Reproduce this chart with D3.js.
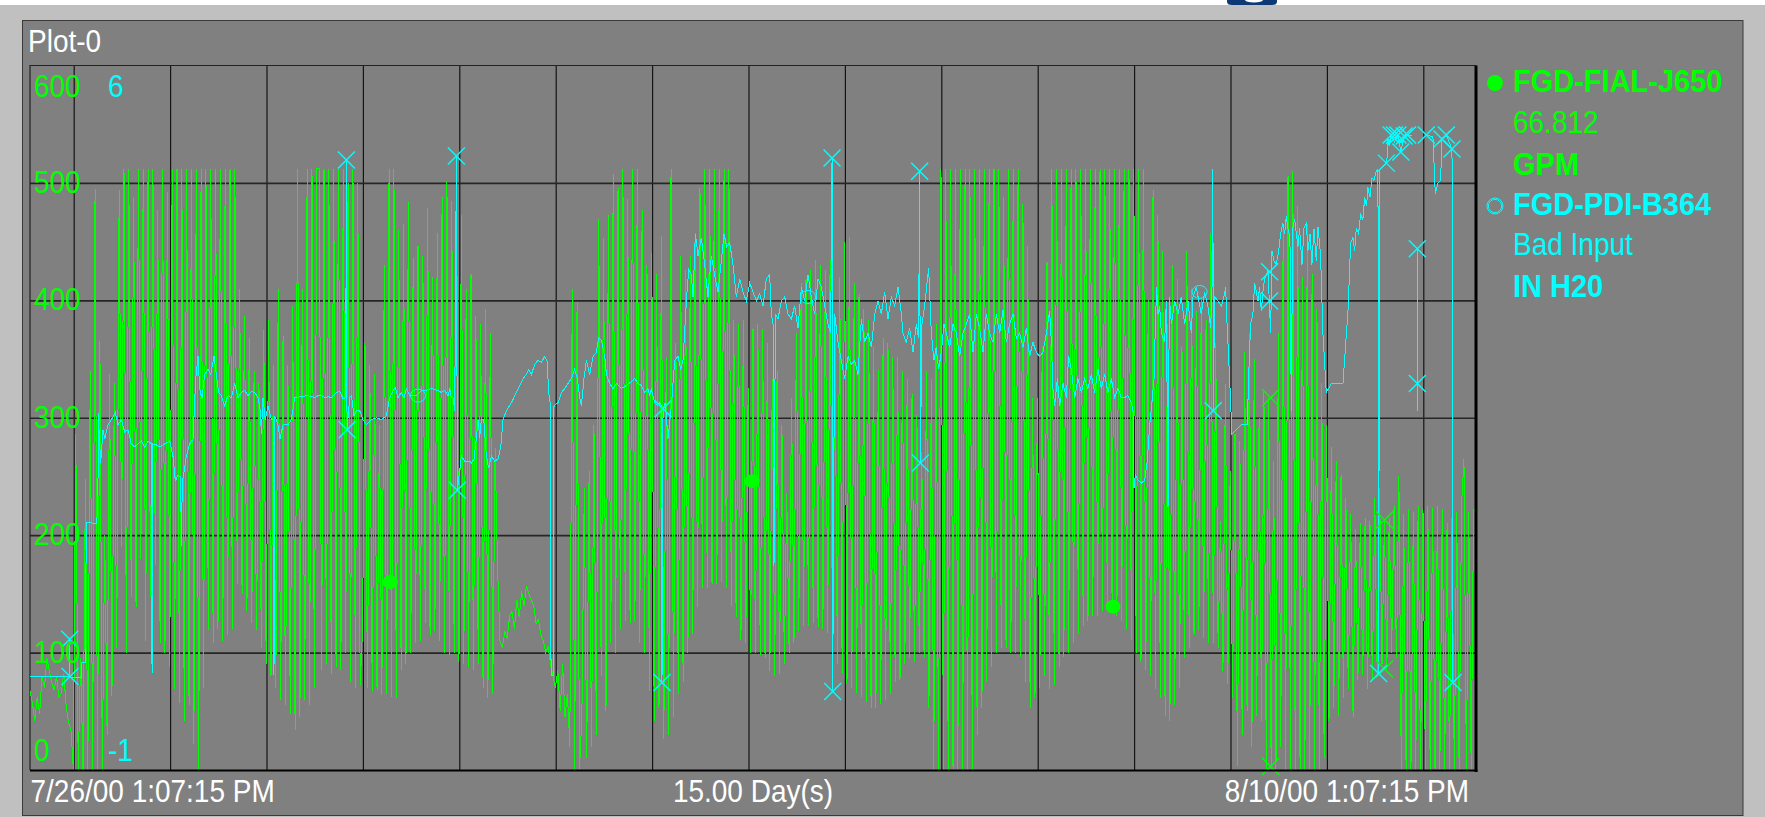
<!DOCTYPE html>
<html>
<head>
<meta charset="utf-8">
<script src="https://cdn.jsdelivr.net/npm/d3@7"></script>
<style>
  html, body { margin: 0; padding: 0; background: #fff; }
  svg { display: block; }
  text { font-family: "Liberation Sans", Arial, sans-serif; }
</style>
</head>
<body>
<svg id="chart" width="1765" height="817"></svg>
<script>
// time span of the trend: 15 days
const startTime = new Date(2000, 6, 26, 13, 7, 15);
const endTime = new Date(2000, 7, 10, 13, 7, 15);

// FGD-FIAL-J650 (GPM), one sample every 0.025 day
const fialStep = 0.025;
const fialValues = [
  // day 0
  67,57,42,62,48,80,70,95,85,75, 68,80,62,66,82,55,40,34,0,286, 0,95,0,248,0,340,0,495,0,365, 0,200,30,337,63,330,104,494,190,512,
  // day 1
  100,512,147,488,139,512,180,512,110,512, 147,512,175,477,108,512,100,492,88,512, 69,512,57,512,42,512,55,512,22,512, 0,512,70,512,119,512,108,512,120,512,
  // day 2
  110,512,115,512,120,512,158,410,150,387, 135,368,125,340,119,330,104,375,90,383, 80,345,70,410,60,370,55,345,48,395, 34,512,45,410,60,512,55,512,70,512,
  // day 3
  512,85,512,90,512,82,512,88,512,85, 512,100,500,75,512,70,500,72,120,364, 70,345,67,337,68,294,64,430,65,512, 62,512,61,460,85,465,90,484,100,436,
  // day 4
  108,446,110,438,125,479,115,420,118,457, 110,488,100,502,98,485,100,494,92,473, 90,410,88,422,85,387,90,380,70,393, 61,372,65,274,174,110,104,118,112,131,
  // day 5
  135,120,145,130,152,140,157,150,145,140, 125,128,115,110,100,105,90,80,70,85, 50,90,45,65,20,410,0,399,0,45, 240,10,255,20,294,30,469,80,453,50,
  // day 6
  473,108,508,100,496,120,512,127,486,125, 512,127,512,108,477,100,430,67,440,42, 422,53,455,26,352,30,512,45,364,65, 438,75,426,100,438,116,457,139,496,155,
  // day 7
  512,155,512,158,512,158,512,160,512,155, 512,140,383,130,380,111,383,108,325,100, 376,100,380,98,376,95,364,84,333,80, 340,82,294,90,236,100,317,108,372,118,
  // day 8
  415,123,418,123,426,125,434,122,430,120, 426,117,434,100,380,90,420,82,450,73, 454,70,415,66,405,62,393,58,383,53, 360,53,341,56,368,60,364,65,352,75,
  // day 9
  352,77,340,90,333,95,320,92,302,100, 271,95,340,53,333,0,380,0,512,0, 512,0,512,0,512,0,512,0,512,0, 512,0,512,30,512,53,512,75,512,88,
  // day 10
  512,100,512,104,488,104,512,100,512,100, 512,96,482,75,446,53,317,61,317,70, 360,80,433,69,512,72,512,88,512,96, 512,100,512,108,512,116,512,123,512,127,
  // day 11
  512,131,512,131,512,135,512,135,512,139, 512,131,512,127,512,120,512,111,512,100, 512,92,512,85,400,80,494,69,473,61, 442,46,380,42,430,55,418,70,360,95,
  // day 12
  442,104,410,115,391,119,400,112,383,108, 457,108,364,104,212,84,329,73,255,61, 286,3,280,30,356,50,372,20,350,46, 300,42,322,0,317,0,263,0,372,20,
  // day 13
  465,0,506,0,510,0,480,0,420,0, 465,0,422,0,393,0,330,10,294,42, 275,53,263,46,251,61,232,69,218,45, 205,77,210,81,215,69,212,77,232,81,
  // day 14
  240,90,212,86,215,100,225,95,250,0, 218,0,222,0,220,0,225,0,222,0, 225,0,223,0,225,0,222,0,210,0, 215,0,220,0,225,265,0,220,0,222,
  220
];
const fialDots = [[3.738, 160], [7.49, 246], [11.234, 139]];
const fialCrosses = [[12.87, 317], [12.87, 3], [14.052, 213], [14.052, 86]];

// FGD-PDI-B364 (IN H20): [day, value], null = gap
const pdiTrace = [
  [0,-0.07],[0.41,-0.07],[0.412,0.30],[0.415,-0.07],[0.43,-0.08],[0.53,-0.08],[0.532,0.07],[0.574,0.07],[0.584,1.46],[0.688,1.45],
  [0.705,1.59],[0.707,2.55],[0.733,2.05],[0.757,2.38],[0.775,2.29],[0.809,2.43],[0.844,2.48],[0.885,2.55],[0.913,2.43],[0.947,2.48],
  [0.982,2.36],[1.017,2.38],[1.051,2.24],[1.086,2.21],[1.12,2.24],[1.155,2.27],[1.19,2.21],[1.224,2.27],[1.259,2.24],[1.266,-0.04],
  [1.273,2.24],[1.311,2.23],[1.345,2.21],[1.397,2.24],[1.449,2.27],[1.483,2.12],[1.508,1.87],[1.535,1.93],[1.563,1.91],[1.57,1.23],
  [1.58,1.85],[1.622,2.12],[1.656,2.24],[1.691,2.29],[1.719,2.89],[1.743,3.11],[1.76,2.79],[1.784,2.69],[1.812,2.93],[1.847,2.98],
  [1.874,2.93],[1.909,3.11],[1.933,2.93],[1.957,2.75],[1.985,2.72],[2.019,2.62],[2.054,2.72],[2.089,2.70],[2.123,2.84],[2.158,2.70],
  [2.192,2.75],[2.227,2.77],[2.261,2.72],[2.296,2.76],[2.331,2.75],[2.365,2.70],[2.389,2.57],[2.40,2.34],[2.417,2.70],[2.441,2.48],
  [2.469,2.62],[2.504,2.48],[2.528,2.48],[2.531,-0.06],[2.538,2.52],[2.573,2.43],[2.593,2.29],[2.625,2.43],[2.676,2.43],[2.711,2.48],
  [2.746,2.70],[2.815,2.71],[2.884,2.72],[2.953,2.70],
  [2.988,2.72],[3.022,2.72],[3.057,2.70],[3.092,2.71],[3.126,2.70],[3.178,2.75],[3.213,2.76],[3.247,2.69],[3.275,2.70],[3.282,5.06],
  [3.289,2.38],[3.316,2.70],[3.334,2.72],[3.361,2.52],[3.386,2.57],[3.42,2.57],[3.455,2.48],[3.489,2.43],[3.541,2.48],[3.593,2.50],
  [3.645,2.48],[3.697,2.52],[3.731,2.70],[3.766,2.77],[3.79,2.80],[3.818,2.70],[3.852,2.75],[3.88,2.70],[3.904,2.79],[3.939,2.72],
  [3.973,2.72],[4.008,2.72],[4.06,2.77],[4.095,2.77],[4.129,2.78],[4.164,2.79],[4.198,2.78],[4.233,2.77],[4.267,2.75],[4.302,2.77],
  [4.337,2.72],[4.354,2.79],[4.371,2.70],[4.388,2.70],[4.406,2.57],[4.423,5.10],[4.433,1.78],[4.475,2.12],[4.509,2.07],[4.561,2.07],
  [4.579,2.05],[4.606,2.09],[4.63,2.30],[4.648,2.48],[4.665,2.30],[4.682,2.48],[4.707,2.48],[4.734,2.12],[4.758,2.00],[4.786,2.12],
  [4.821,2.07],[4.855,2.09],[4.883,2.21],[4.907,2.48],[4.942,2.57],[4.994,2.65],[5.045,2.75],[5.08,2.82],[5.115,2.89],[5.149,2.93],
  [5.173,2.98],[5.201,2.93],[5.236,3.03],[5.27,3.07],[5.305,3.05],[5.339,3.11],[5.363,3.07],[5.381,2.75],[5.40,2.62],[5.405,-0.06],
  [5.43,-0.06],[5.436,2.62],[5.478,2.65],[5.512,2.75],[5.547,2.79],[5.581,2.84],[5.616,2.89],[5.65,2.98],[5.678,2.89],[5.702,2.70],
  [5.72,2.62],[5.747,2.89],[5.771,3.07],[5.806,2.93],[5.841,3.11],[5.875,3.15],[5.899,3.29],[5.927,3.27],[5.962,3.11],[5.979,2.93],
  [6.014,2.84],[6.048,2.79],
  [6.082,2.84],[6.134,2.79],[6.186,2.82],[6.238,2.86],[6.273,2.89],[6.307,2.84],[6.342,2.82],[6.376,2.75],[6.411,2.79],[6.428,2.72],
  [6.445,2.79],[6.48,2.65],[6.508,2.62],[6.532,2.65],[6.549,2.62],[6.556,-0.13],[6.567,2.59],[6.591,2.65],[6.618,2.29],[6.653,2.62],
  [6.688,3.07],[6.722,3.11],[6.75,2.98],[6.774,3.07],[6.809,3.66],[6.833,3.97],[6.86,3.92],[6.878,3.70],[6.902,4.33],[6.93,4.11],
  [6.964,4.29],[6.999,4.02],[7.033,3.70],[7.068,4.11],[7.102,3.92],[7.137,3.75],[7.172,4.06],[7.199,4.33],[7.227,4.20],[7.258,4.24],
  [7.293,4.02],[7.327,3.70],[7.362,3.88],[7.396,3.75],[7.431,3.66],[7.466,3.84],[7.50,3.75],[7.535,3.66],[7.569,3.73],[7.604,3.61],
  [7.638,3.88],[7.673,3.92],[7.69,3.53],[7.708,3.43],[7.718,1.03],[7.732,3.53],[7.759,3.48],[7.794,3.66],[7.829,3.70],[7.863,3.53],
  [7.898,3.48],[7.932,3.61],[7.967,3.39],[8.002,3.80],[8.036,3.66],[8.071,3.92],[8.105,3.70],[8.14,3.53],[8.174,3.88],[8.209,3.80],
  [8.244,3.61],[8.278,3.43],[8.306,3.34],[8.32,5.08],[8.327,-0.22],[8.347,3.53],[8.382,3.25],[8.416,3.07],[8.451,2.89],[8.486,3.11],
  [8.52,3.03],[8.555,3.07],[8.589,2.93],[8.624,3.48],[8.658,3.25],[8.693,3.34],[8.728,3.20],[8.762,3.53],[8.797,3.66],[8.831,3.53],
  [8.866,3.75],[8.90,3.48],[8.935,3.70],[8.97,3.61],[9.004,3.80],[9.039,3.53],
  [9.056,3.34],[9.09,3.25],[9.125,3.39],[9.16,3.15],[9.194,3.43],[9.218,3.29],[9.229,4.95],[9.236,2.05],[9.253,3.43],[9.28,3.61],
  [9.322,3.99],[9.35,3.34],[9.377,3.07],[9.40,3.20],[9.426,2.98],[9.453,3.15],[9.481,3.43],[9.505,3.34],[9.54,3.20],[9.575,3.43],
  [9.609,3.34],[9.644,3.11],[9.678,3.34],[9.713,3.43],[9.748,3.53],[9.782,3.15],[9.817,3.53],[9.851,3.39],[9.886,3.15],[9.92,3.53],
  [9.955,3.34],[9.989,3.25],[10.024,3.53],[10.059,3.34],[10.093,3.57],[10.128,3.25],[10.162,3.43],[10.197,3.53],[10.232,3.29],[10.266,3.34],
  [10.301,3.20],[10.335,3.39],[10.37,3.11],[10.404,3.25],[10.439,3.15],[10.474,3.11],[10.508,3.15],[10.543,3.34],[10.577,3.56],[10.595,3.25],
  [10.612,2.79],[10.629,2.62],[10.657,2.89],[10.681,2.62],[10.716,2.84],[10.75,2.70],[10.774,3.11],[10.802,2.98],[10.837,2.70],[10.871,2.89],
  [10.906,2.75],[10.94,2.89],[10.975,2.79],[11.01,2.93],[11.044,2.75],[11.079,2.98],[11.113,2.79],[11.148,2.93],[11.182,2.75],[11.217,2.89],
  [11.252,2.70],[11.286,2.79],[11.321,2.70],[11.355,2.70],[11.39,2.72],[11.425,2.65],[11.442,2.57],[11.452,1.80],[11.466,1.93],[11.494,1.88],
  [11.528,1.85],[11.563,1.88],[11.59,2.07],[11.615,2.43],[11.639,2.65],[11.66,2.89],[11.673,3.39],[11.687,3.80],[11.701,3.53],[11.718,3.61],
  [11.736,3.34],[11.77,3.25],[11.788,3.66],[11.805,1.61],[11.819,3.70],[11.84,3.43],[11.874,3.66],[11.909,3.53],[11.943,3.70],[11.978,3.43],
  [12.012,3.66],[12.047,3.34],
  [12.064,3.70],[12.098,3.80],[12.15,3.53],[12.185,3.75],[12.219,3.61],[12.247,3.39],[12.261,3.73],[12.271,4.97],[12.274,2.57],[12.289,3.70],
  [12.323,3.66],[12.358,3.61],[12.385,3.70],[12.403,3.80],[12.413,3.53],[12.444,2.89],[12.468,2.34],[12.513,2.38],[12.565,2.43],[12.628,2.43],
  [12.641,2.89],[12.662,3.43],[12.686,3.53],[12.704,3.84],[12.721,3.75],[12.738,3.66],[12.755,3.80],[12.773,3.56],[12.79,3.75],[12.807,3.88],
  [12.825,3.92],[12.842,3.97],[12.87,3.34],[12.883,4.16],[12.904,4.06],[12.928,4.02],[12.953,4.16],[12.973,4.33],[12.997,4.43],[13.015,4.33],
  [13.032,4.50],[13.049,4.38],[13.07,4.29],[13.084,2.57],[13.098,4.38],[13.119,4.47],[13.153,4.20],[13.17,4.38],[13.195,4.02],[13.215,4.38],
  [13.24,4.43],[13.257,4.16],[13.278,4.33],[13.298,4.02],[13.319,4.38],[13.343,4.06],[13.361,4.40],[13.388,4.11],[13.412,3.34],[13.447,2.75],
  [13.499,2.84],[13.533,2.84],[13.62,2.84],[13.672,3.56],[13.70,4.24],[13.724,4.29],[13.741,4.16],[13.758,4.38],[13.782,4.33],[13.803,4.52],
  [13.827,4.47],[13.845,4.69],[13.865,4.60],[13.879,4.79],[13.90,4.69],[13.921,4.88],[13.941,4.86],[13.966,4.95],[13.983,4.97],[13.99,-0.04],
  [14.0,4.97],[14.05,5.01],[14.07,5.03],[14.08,5.10],[14.087,5.27],[14.10,5.20],[14.12,5.31],[14.155,5.24],[14.19,5.31],[14.22,5.14],
  [14.255,5.30],[14.29,5.31],[14.33,5.30],[14.36,null],
  [14.391,4.18],[14.391,2.57],[14.43,null],
  [14.484,5.31],[14.553,5.29],[14.578,4.72],[14.605,4.83],[14.633,4.86],[14.647,5.27],[14.692,5.31],[14.751,5.17],[14.761,-0.13]
];
const pdiCrosses = [
  [0.412,0.30],[0.415,-0.07],[3.282,5.06],[3.289,2.38],[4.423,5.10],[4.433,1.78],[6.556,-0.13],[6.567,2.59],
  [8.32,5.08],[8.327,-0.22],[9.229,4.95],[9.236,2.05],[12.274,2.57],[12.859,3.95],[12.859,3.66],[13.99,-0.04],
  [14.07,5.03],[14.12,5.31],[14.155,5.31],[14.19,5.31],[14.22,5.14],[14.255,5.30],[14.29,5.31],
  [14.391,4.18],[14.391,2.84],[14.484,5.31],[14.647,5.27],[14.692,5.31],[14.751,5.17],[14.761,-0.13]
];
const pdiRings = [[4.025, 2.72], [8.071, 3.70], [12.133, 3.75]];

const fialTicks = [600, 500, 400, 300, 200, 100, 0];
const pdiTicks = [6, -1];
const gridValues = [100, 200, 300, 400, 500];
const legendRows = [
  ['FGD-FIAL-J650', 'bold', '#00ff00'],
  ['66.812', 'normal', '#00ff00'],
  ['GPM', 'bold', '#00ff00'],
  ['FGD-PDI-B364', 'bold', '#00ffff'],
  ['Bad Input', 'normal', '#00ffff'],
  ['IN H20', 'bold', '#00ffff']
];
const bottomLabels = ['7/26/00 1:07:15 PM', '15.00 Day(s)', '8/10/00 1:07:15 PM'];

const green = '#00ff00', cyan = '#00ffff';
const [pLeft, pRight, pTop, pBottom] = [30, 1476, 65.5, 770];
const stretch = 1.09;  // the original font renders a bit taller than Liberation Sans
const toTime = d => new Date(startTime.getTime() + d * 864e5);
const place = (tx, ty) => `translate(${tx},${ty}) scale(1,${stretch})`;

const x = d3.scaleTime().domain([startTime, endTime]).range([pLeft, pRight]);
const yF = d3.scaleLinear().domain([0, 600]).range([pBottom, pTop]);
const yP = d3.scaleLinear().domain([-1, 6]).range([pBottom, pTop]);

const svg = d3.select('#chart');

// window chrome
svg.append('rect').attr('width', 1765).attr('height', 817).attr('fill', '#ffffff');
svg.append('rect').attr('y', 5).attr('width', 1765).attr('height', 812).attr('fill', '#c0c0c0');
svg.append('path')
    .attr('d', 'M1227,0 L1277,0 L1277,1.5 Q1277,5 1272,5 L1232,5 Q1227,5 1227,1.5 Z')
    .attr('fill', '#0d3a75');
svg.append('ellipse').attr('cx', 1254).attr('cy', 0).attr('rx', 9).attr('ry', 2.6).attr('fill', '#ffffff');
svg.append('rect')
    .attr('x', 22.5).attr('y', 20.5).attr('width', 1720.5).attr('height', 795)
    .attr('fill', '#808080').attr('stroke', '#3a3a3a').attr('stroke-width', 1);

svg.append('text').attr('transform', place(28, 52)).attr('fill', '#ffffff')
    .style('font-size', '28px').text('Plot-0');

// grid
svg.append('g')
    .attr('transform', `translate(0, ${pBottom})`)
    .call(d3.axisBottom(x).ticks(d3.timeDay.every(1)).tickSize(-(pBottom - pTop)).tickFormat(''))
    .call(g => g.select('.domain').remove())
    .call(g => g.selectAll('line').attr('stroke', '#151515').attr('stroke-width', 1.2));
svg.append('g')
    .attr('transform', `translate(${pLeft}, 0)`)
    .call(d3.axisLeft(yF).tickValues(gridValues).tickSize(-(pRight - pLeft)).tickFormat(''))
    .call(g => g.select('.domain').remove())
    .call(g => g.selectAll('line').attr('stroke', '#262626').attr('stroke-width', 1.6));

// plot frame (left / top thin)
svg.append('path').attr('d', `M${pLeft},${pBottom} L${pLeft},${pTop} L${pRight},${pTop}`)
    .attr('fill', 'none').attr('stroke', '#222').attr('stroke-width', 1.2);

svg.append('clipPath').attr('id', 'plotClip')
    .append('rect').attr('x', pLeft).attr('y', pTop - 1).attr('width', pRight - pLeft).attr('height', pBottom - pTop + 2);

const plot = svg.append('g').attr('clip-path', 'url(#plotClip)');

const fialLine = d3.line()
    .x((v, i) => x(toTime(i * fialStep)))
    .y(v => yF(v));
plot.append('path').datum(fialValues)
    .attr('d', fialLine)
    .attr('fill', 'none').attr('stroke', green).attr('stroke-width', 1)
    .attr('shape-rendering', 'crispEdges');

const pdiLine = d3.line()
    .defined(d => d[1] !== null)
    .x(d => x(toTime(d[0])))
    .y(d => yP(d[1]));
plot.append('path').datum(pdiTrace)
    .attr('d', pdiLine)
    .attr('fill', 'none').attr('stroke', cyan).attr('stroke-width', 1)
    .attr('shape-rendering', 'crispEdges');

// markers
const cross = (cx, cy, s) => `M${cx - s},${cy - s}L${cx + s},${cy + s}M${cx - s},${cy + s}L${cx + s},${cy - s}`;

svg.append('g').selectAll('path').data(fialCrosses).join('path')
    .attr('d', d => cross(x(toTime(d[0])), yF(d[1]), 8.5))
    .attr('stroke', green).attr('stroke-width', 1.4).attr('fill', 'none');
svg.append('g').selectAll('ellipse').data(fialDots).join('ellipse')
    .attr('cx', d => x(toTime(d[0]))).attr('cy', d => yF(d[1]))
    .attr('rx', 7.5).attr('ry', 7).attr('fill', green);

svg.append('g').selectAll('path').data(pdiCrosses).join('path')
    .attr('d', d => cross(x(toTime(d[0])), yP(d[1]), 8.5))
    .attr('stroke', cyan).attr('stroke-width', 1.4).attr('fill', 'none');
svg.append('g').selectAll('ellipse').data(pdiRings).join('ellipse')
    .attr('cx', d => x(toTime(d[0]))).attr('cy', d => yP(d[1]))
    .attr('rx', 7.5).attr('ry', 6.5).attr('fill', 'none').attr('stroke', cyan).attr('stroke-width', 1);

// right / bottom heavy frame
svg.append('line').attr('x1', pRight).attr('x2', pRight).attr('y1', pTop).attr('y2', pBottom + 2)
    .attr('stroke', '#000').attr('stroke-width', 3);
svg.append('line').attr('x1', pLeft).attr('x2', pRight + 1.5).attr('y1', pBottom + 0.5).attr('y2', pBottom + 0.5)
    .attr('stroke', '#000').attr('stroke-width', 2);

// axis labels inside the plot
const labelY = v => v === 600 ? yF(v) + 31 : v === 0 ? yF(v) - 9 : yF(v) + 10;
svg.append('g').selectAll('text').data(fialTicks).join('text')
    .attr('transform', d => place(34, labelY(d)))
    .attr('fill', green).style('font-size', '28px')
    .text(d => d);
svg.append('g').selectAll('text').data(pdiTicks).join('text')
    .attr('transform', d => place(108, d === 6 ? yP(d) + 31 : yP(d) - 9))
    .attr('fill', cyan).style('font-size', '28px')
    .text(d => d);

// time labels
svg.append('g').selectAll('text').data(bottomLabels).join('text')
    .attr('transform', (d, i) => place([pLeft + 0.5, (pLeft + pRight) / 2, pRight - 7][i], 802))
    .attr('text-anchor', (d, i) => ['start', 'middle', 'end'][i])
    .attr('fill', '#ffffff').style('font-size', '28px')
    .text(d => d);

// legend
const legendBase = [92, 133, 175, 215, 255, 297];
svg.append('g').selectAll('text').data(legendRows).join('text')
    .attr('transform', (d, i) => place(1513, legendBase[i]))
    .attr('fill', d => d[2]).style('font-weight', d => d[1])
    .style('font-size', d => d[1] === 'bold' ? '29px' : '28px')
    .text(d => d[0]);
svg.append('circle').attr('cx', 1495).attr('cy', 83).attr('r', 8).attr('fill', green);
svg.append('circle').attr('cx', 1495).attr('cy', 206).attr('r', 8)
    .attr('fill', 'none').attr('stroke', cyan).attr('stroke-width', 1);
svg.append('circle').attr('cx', 1495).attr('cy', 206).attr('r', 6.6)
    .attr('fill', 'none').attr('stroke', cyan).attr('stroke-width', 1);
</script>
</body>
</html>
